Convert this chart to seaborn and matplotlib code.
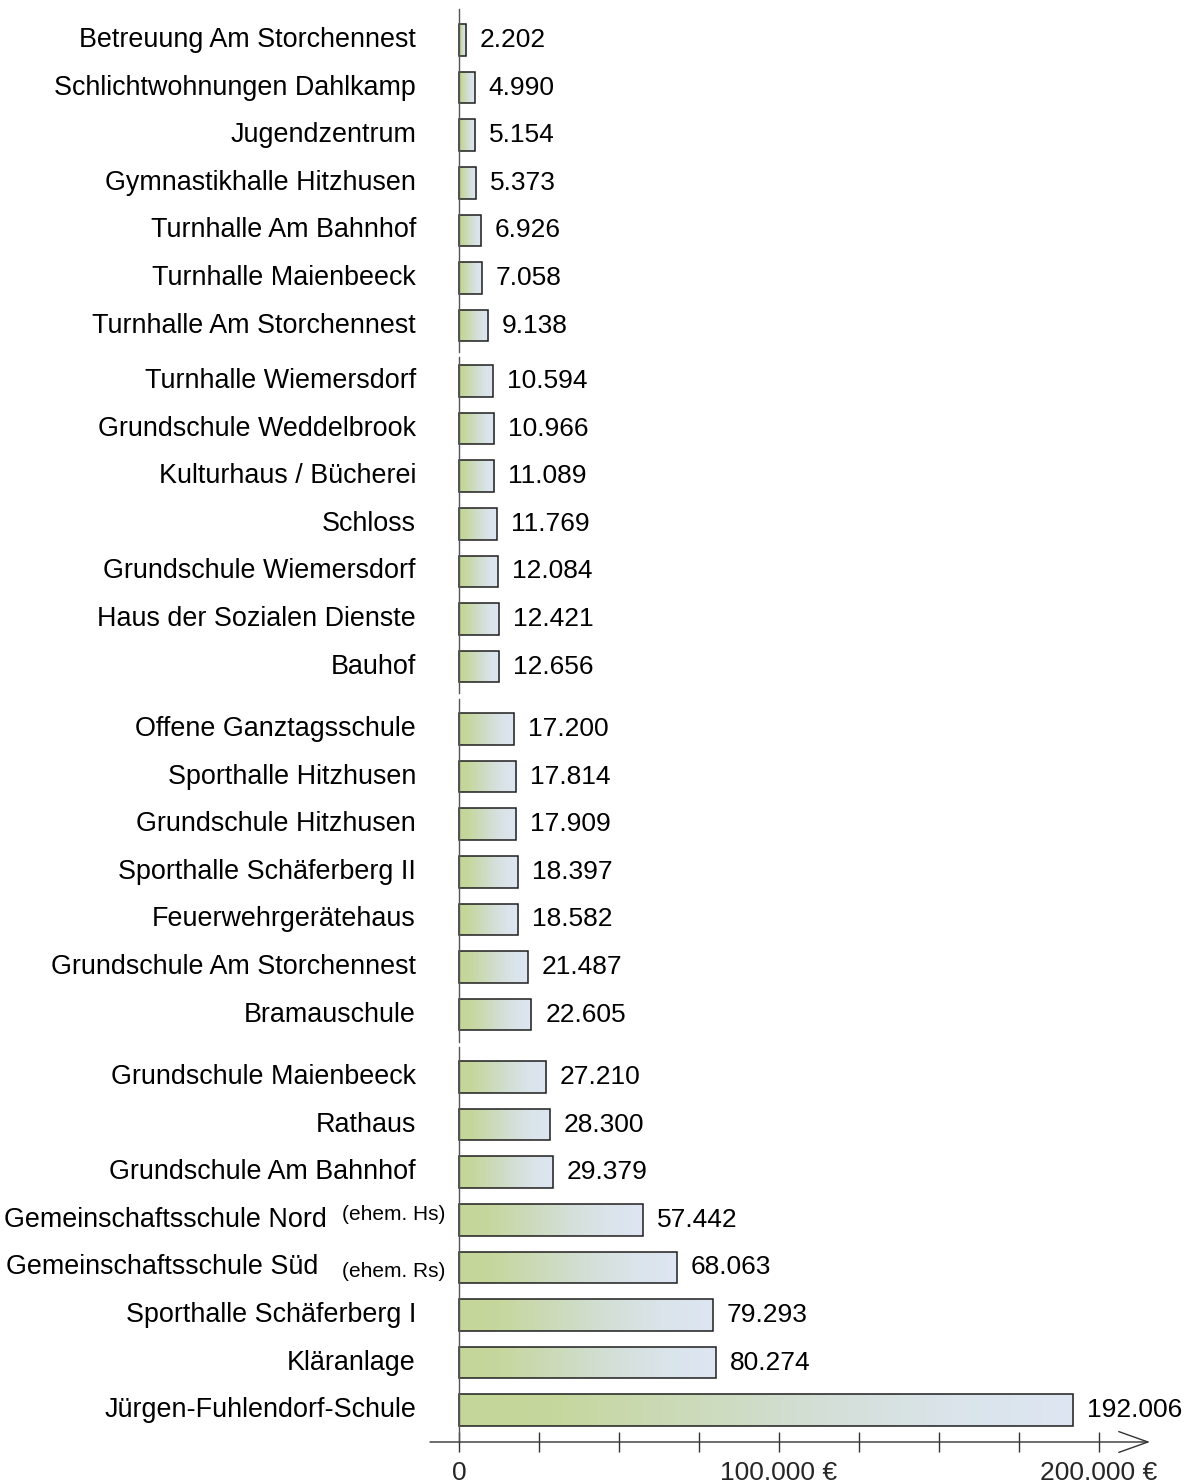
import numpy as np
import pandas as pd
import matplotlib
matplotlib.use("Agg")
import matplotlib.pyplot as plt
import seaborn as sns
from matplotlib.colors import LinearSegmentedColormap

# ---------------- data ----------------
names_1 = ["Betreuung Am Storchennest", "Schlichtwohnungen Dahlkamp", "Jugendzentrum",
           "Gymnastikhalle Hitzhusen", "Turnhalle Am Bahnhof", "Turnhalle Maienbeeck",
           "Turnhalle Am Storchennest"]
values_1 = [2202, 4990, 5154, 5373, 6926, 7058, 9138]

names_2 = ["Turnhalle Wiemersdorf", "Grundschule Weddelbrook", "Kulturhaus / Bücherei",
           "Schloss", "Grundschule Wiemersdorf", "Haus der Sozialen Dienste", "Bauhof"]
values_2 = [10594, 10966, 11089, 11769, 12084, 12421, 12656]

names_3 = ["Offene Ganztagsschule", "Sporthalle Hitzhusen", "Grundschule Hitzhusen",
           "Sporthalle Schäferberg II", "Feuerwehrgerätehaus", "Grundschule Am Storchennest",
           "Bramauschule"]
values_3 = [17200, 17814, 17909, 18397, 18582, 21487, 22605]

names_4 = ["Grundschule Maienbeeck", "Rathaus", "Grundschule Am Bahnhof",
           "Gemeinschaftsschule Nord", "Gemeinschaftsschule Süd", "Sporthalle Schäferberg I",
           "Kläranlage", "Jürgen-Fuhlendorf-Schule"]
values_4 = [27210, 28300, 29379, 57442, 68063, 79293, 80274, 192006]
notes_4 = ["", "", "", "(ehem. Hs)", "(ehem. Rs)", "", "", ""]

x_ticks = [0, 100000, 200000]
x_tick_labels = ["0", "100.000 €", "200.000 €"]
x_minor_ticks = [25000, 50000, 75000, 125000, 150000, 175000]

groups = [(names_1, values_1, [""] * 7), (names_2, values_2, [""] * 7),
          (names_3, values_3, [""] * 7), (names_4, values_4, notes_4)]

# ---------------- style ----------------
sns.set_theme(style="white")
plt.rcParams["font.family"] = ["Liberation Sans", "DejaVu Sans"]

W, H = 1191, 1483
fig = plt.figure(figsize=(W / 100, H / 100), dpi=100)

PX_PER_UNIT = 3.2 / 1000.0        # px per euro
ZERO_PX = 459
LEFT_PX, RIGHT_PX = 430, 1150
XLIM = ((LEFT_PX - ZERO_PX) / PX_PER_UNIT, (RIGHT_PX - ZERO_PX) / PX_PER_UNIT)
STEP = 47.6
# (top px, bottom px, first bar centre px)
panels = [(9, 352, 40), (357, 693, 381), (699, 1042, 729), (1047, 1442, 1077)]

grad_cmap = LinearSegmentedColormap.from_list(
    "g", [(0.0, "#c4d699"), (0.15, "#c6d79d"), (0.45, "#cedcc4"), (0.6, "#d4dfd8"),
          (0.8, "#dae4ea"), (1.0, "#dde6f2")])
gradient = np.linspace(0, 1, 256).reshape(1, -1)

EDGE = "#1e1e1e"
LABEL_FS = 19.4
VALUE_FS = 19
NOTE_FS = 15
# layout for annotated labels (main text offset pt, note offset dy pt)
note_layout = {3: (-95, 3.6), 4: (-101.5, -3.0)}

for gi, ((names, values, notes), (top, bottom, first)) in enumerate(zip(groups, panels)):
    ax = fig.add_axes([LEFT_PX / W, 1 - bottom / H, (RIGHT_PX - LEFT_PX) / W, (bottom - top) / H])
    df = pd.DataFrame({"name": names, "value": values})
    sns.barplot(data=df, x="value", y="name", orient="h", ax=ax, width=0.66,
                color="#c5d69b", edgecolor=EDGE, linewidth=1.1, saturation=1)
    # gradient fill inside each bar
    for patch in ax.patches:
        x0, y0 = patch.get_x(), patch.get_y()
        w, h = patch.get_width(), patch.get_height()
        im = ax.imshow(gradient, cmap=grad_cmap, aspect="auto",
                       extent=[x0, x0 + w, y0 + h, y0], zorder=1.5, interpolation="bicubic")
        im.set_clip_path(patch)
        patch.set_facecolor("none")
        patch.set_zorder(2)
    ax.set_xlim(*XLIM)
    ax.set_ylim((bottom - first) / STEP, -(first - top) / STEP)
    ax.set_xlabel("")
    ax.set_ylabel("")
    ax.set_yticks([])
    for s in ["top", "right", "bottom"]:
        ax.spines[s].set_visible(False)
    ax.spines["left"].set_position(("data", 0))
    ax.spines["left"].set_color("#555555")
    ax.spines["left"].set_linewidth(1.0)
    ax.patch.set_alpha(0)

    # value labels
    ax.bar_label(ax.containers[0], labels=[f"{v:,}".replace(",", ".") for v in values],
                 padding=10, fontsize=VALUE_FS, color="black")

    # category labels
    for i, (name, note) in enumerate(zip(names, notes)):
        if note:
            main_off, dy = note_layout[i]
            ax.annotate(name, xy=(0, i), xytext=(main_off, 0), textcoords="offset points",
                        ha="right", va="center", fontsize=LABEL_FS, color="black")
            ax.annotate(note, xy=(0, i), xytext=(-10, dy), textcoords="offset points",
                        ha="right", va="center", fontsize=NOTE_FS, color="black")
        else:
            ax.annotate(name, xy=(0, i), xytext=(-31, 0), textcoords="offset points",
                        ha="right", va="center", fontsize=LABEL_FS, color="black")

    if gi == len(groups) - 1:
        ax.set_xticks(x_ticks)
        ax.set_xticklabels(x_tick_labels, fontsize=VALUE_FS)
        ax.set_xticks(x_minor_ticks, minor=True)
        ax.tick_params(axis="x", which="both", direction="inout", length=15, width=1,
                       color="#333333", bottom=True, pad=6)
        ax.annotate("", xy=(1, 0), xytext=(0, 0), xycoords="axes fraction",
                    arrowprops=dict(arrowstyle="->,head_length=1.4,head_width=0.5",
                                    color="#333333", lw=1, shrinkA=0, shrinkB=0,
                                    mutation_scale=15))
    else:
        ax.set_xticks([])

fig.savefig("out.png", dpi=100)
